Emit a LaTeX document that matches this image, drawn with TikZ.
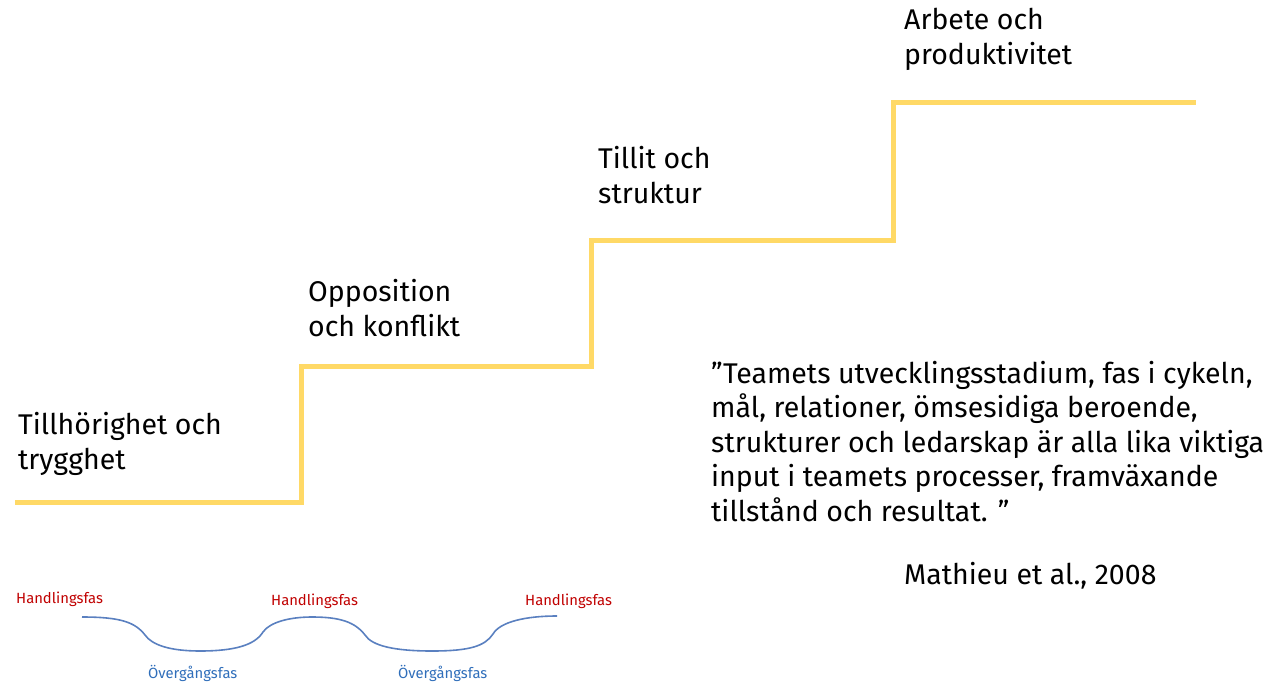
\documentclass[tikz,border=0pt]{standalone}
\usepackage{fontspec}
\setmainfont{Fira Sans}
\newfontfamily\smallfont{Fira Sans}
\definecolor{stairy}{HTML}{FFD966}
\definecolor{wavebl}{HTML}{5A80C0}
\definecolor{hred}{HTML}{C00000}
\definecolor{oblue}{HTML}{2F6EBA}
\begin{document}
\begin{tikzpicture}[x=1pt,y=-1pt,
  stage/.style={anchor=base west,inner sep=0pt,align=left,font=\fontsize{28.5}{35}\selectfont},
  quote/.style={anchor=base west,inner sep=0pt,align=left,font=\fontsize{28.5}{34.5}\selectfont},
  hand/.style={anchor=base west,inner sep=0pt,text=hred,font=\smallfont\fontsize{14.8}{16}\selectfont},
  overg/.style={anchor=base west,inner sep=0pt,text=oblue,font=\smallfont\fontsize{14.8}{16}\selectfont},
  stairline/.style={draw=stairy,line width=5pt,line join=miter},
  shadowline/.style={draw=black,line width=5pt,opacity=0.13}
]
\useasboundingbox (0,0) rectangle (1266,682);
% staircase coordinates
\coordinate (s0) at (15,502);
\coordinate (s1) at (301,502);
\coordinate (s2) at (301,366);
\coordinate (s3) at (591,366);
\coordinate (s4) at (591,240);
\coordinate (s5) at (893,240);
\coordinate (s6) at (893,103);
\coordinate (s7) at (1196,103);
% shadow
\foreach \dx/\dy in {1/2,2/4,3/5,4/6}{
  \draw[shadowline,shift={(\dx,\dy)}] (s0) -- (s1) -- (s2) -- (s3) -- (s4) -- (s5) -- (s6) -- (s7);
}
\draw[stairline] (s0) -- (s1) -- (s2) -- (s3) -- (s4) -- (s5) -- (s6) -- (s7);
% stage labels (anchored at baseline of last line)
\node[stage] (st1) at (18,469) {Tillhörighet och\\trygghet};
\node[stage] (st2) at (308,336) {Opposition\\och konflikt};
\node[stage] (st3) at (598,203) {Tillit och\\struktur};
\node[stage] (st4) at (904,65) {Arbete och\\produktivitet};
% quote
\node[quote] (q) at (711,521) {”Teamets utvecklingsstadium, fas i cykeln,\\mål, relationer, ömsesidiga beroende,\\strukturer och ledarskap är alla lika viktiga\\input i teamets processer, framväxande\\tillstånd och resultat. ”};
\node[quote] (ref) at (904,584) {Mathieu et al., 2008};
% wave
\coordinate (w0) at (82,617);
\coordinate (w1) at (200,651);
\coordinate (w2) at (312,617);
\coordinate (w3) at (432,651);
\coordinate (w4) at (557,616);
\draw[wavebl,line width=1.6pt]
  (w0) .. controls (120,617) and (135,622) .. (145,635)
  .. controls (152,645) and (170,651) .. (w1)
  .. controls (235,651) and (255,645) .. (263,632)
  .. controls (270,622) and (290,617) .. (w2)
  .. controls (340,617) and (355,622) .. (365,635)
  .. controls (372,646) and (395,651) .. (w3)
  .. controls (470,651) and (485,646) .. (493,634)
  .. controls (500,622) and (525,616) .. (w4);
\node[hand] (h1) at (16,603) {Handlingsfas};
\node[hand] (h2) at (271,605) {Handlingsfas};
\node[hand] (h3) at (525,605) {Handlingsfas};
\node[overg] (o1) at (148,678) {Övergångsfas};
\node[overg] (o2) at (398,678) {Övergångsfas};
\end{tikzpicture}
\end{document}
